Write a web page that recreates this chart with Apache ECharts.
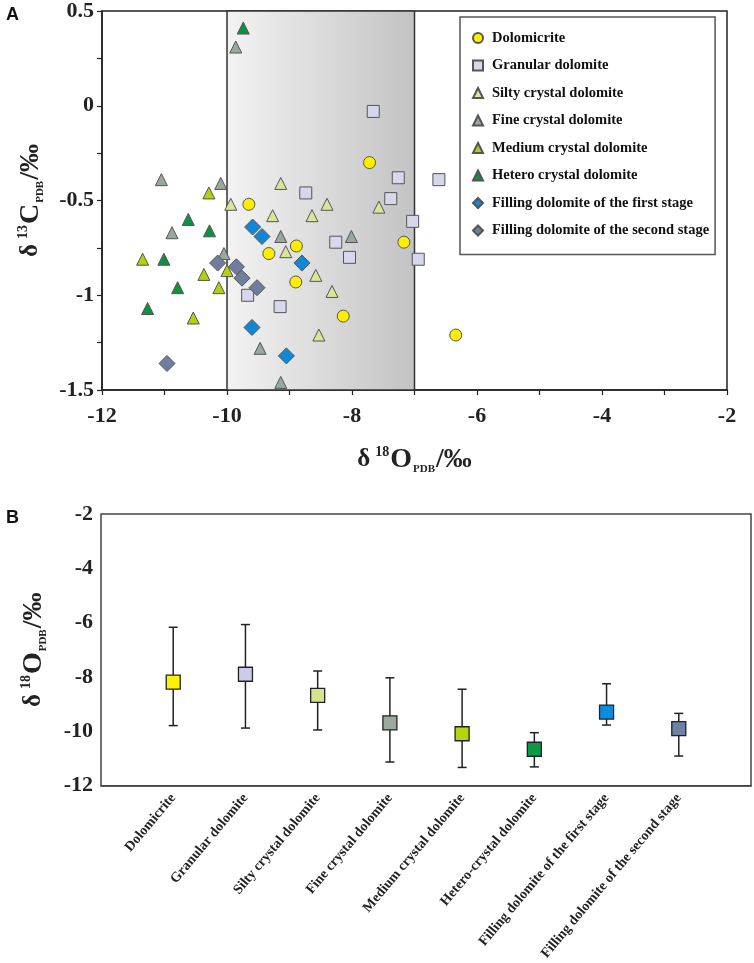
<!DOCTYPE html>
<html>
<head>
<meta charset="utf-8">
<script src="https://cdn.jsdelivr.net/npm/echarts@6/dist/echarts.min.js"></script>
<style>
  html, body { margin: 0; padding: 0; background: #fff; }
  #chart { width: 754px; height: 963px; }
</style>
</head>
<body>
<div id="chart"></div>
<script>
// ---- panel A: d18O (x) vs d13C (y) ----
var dolomicrite = [[-7.72, -0.30], [-9.65, -0.52], [-9.33, -0.78], [-8.89, -0.74], [-7.17, -0.72], [-8.90, -0.93], [-8.14, -1.11], [-6.34, -1.21]];
var granular = [[-7.66, -0.03], [-7.26, -0.38], [-8.74, -0.46], [-7.38, -0.49], [-6.61, -0.39], [-7.03, -0.61], [-8.26, -0.72], [-8.04, -0.80], [-6.94, -0.81], [-9.67, -1.00], [-9.15, -1.06]];
var silty = [[-9.14, -0.41], [-9.94, -0.52], [-9.27, -0.58], [-9.06, -0.77], [-8.40, -0.52], [-7.57, -0.535], [-8.64, -0.58], [-8.32, -0.98], [-8.53, -1.21], [-8.58, -0.895]];
var fine = [[-9.86, 0.31], [-11.05, -0.39], [-10.10, -0.41], [-10.88, -0.67], [-9.14, -0.69], [-10.05, -0.78], [-9.47, -1.28], [-9.14, -1.46], [-8.01, -0.69]];
var medium = [[-10.29, -0.46], [-11.35, -0.81], [-10.00, -0.87], [-10.37, -0.89], [-10.13, -0.96], [-10.54, -1.12]];
var hetero = [[-9.74, 0.41], [-10.62, -0.60], [-10.28, -0.66], [-11.01, -0.81], [-10.79, -0.96], [-11.27, -1.07]];
var filling1 = [[-9.59, -0.64], [-9.44, -0.69], [-8.80, -0.83], [-9.60, -1.17], [-9.05, -1.32]];
var filling2 = [[-10.15, -0.83], [-9.85, -0.85], [-9.76, -0.91], [-9.52, -0.96], [-10.96, -1.36]];
var bandRange = [-10, -7];

// ---- panel B: d18O summary per rock type ----
var categories = ['Dolomicrite', 'Granular dolomite', 'Silty crystal dolomite', 'Fine crystal dolomite',
  'Medium crystal dolomite', 'Hetero-crystal dolomite', 'Filling dolomite of the first stage', 'Filling dolomite of the second stage'];
var meanO = [-8.19, -7.90, -8.68, -9.69, -10.09, -10.66, -9.29, -9.90];
var maxO = [-6.17, -6.07, -7.78, -8.03, -8.45, -10.05, -8.25, -9.34];
var minO = [-9.79, -9.88, -9.95, -11.13, -11.33, -11.31, -9.77, -10.91];
var bColors = ['#fff200', '#ccccea', '#d6e38a', '#9aab9d', '#b6d40a', '#0a9a45', '#0c8ce0', '#7082a4'];

var serif = 'Liberation Serif';
var ink = '#222';

var richName = {
  d: { fontFamily: serif, fontWeight: 'bold', fontSize: 25, lineHeight: 30, color: ink },
  m: { fontFamily: serif, fontWeight: 'bold', fontSize: 28, lineHeight: 30, color: ink },
  sup: { fontFamily: serif, fontWeight: 'bold', fontSize: 14, lineHeight: 16, verticalAlign: 'top', padding: [0, 1, 0, 5], color: ink },
  sub: { fontFamily: serif, fontWeight: 'bold', fontSize: 11, lineHeight: 11, verticalAlign: 'bottom', padding: [0, 1, 0, 1], color: ink }
};
function isoName(num, el) {
  return '{d|δ}{sup|' + num + '}{m|' + el + '}{sub|PDB}{m|/‰}';
}

var tickLabel = { fontFamily: serif, fontWeight: 'bold', fontSize: 22, color: ink };

function pointSeries(name, data, symbol, size, color) {
  return {
    name: name,
    type: 'scatter',
    xAxisIndex: 0,
    yAxisIndex: 0,
    data: data,
    symbol: symbol,
    symbolSize: size,
    z: 5,
    itemStyle: { color: color, borderColor: '#555', borderWidth: 1, opacity: 1 }
  };
}

var seriesA = [
  pointSeries('Dolomicrite', dolomicrite, 'circle', 12, '#ffee00'),
  pointSeries('Granular dolomite', granular, 'rect', 12, '#d6d6ec'),
  pointSeries('Silty crystal dolomite', silty, 'triangle', 12, '#d8e69c'),
  pointSeries('Fine crystal dolomite', fine, 'triangle', 12, '#98a89c'),
  pointSeries('Medium crystal dolomite', medium, 'triangle', 12, '#b4cf10'),
  pointSeries('Hetero crystal dolomite', hetero, 'triangle', 12, '#0f9040'),
  pointSeries('Filling dolomite of the first stage', filling1, 'diamond', 16, '#1486d6'),
  pointSeries('Filling dolomite of the second stage', filling2, 'diamond', 16, '#6e7e9c')
];

var chart = echarts.init(document.getElementById('chart'));

var option = {
  backgroundColor: '#ffffff',
  animation: false,
  graphic: [
    { type: 'text', left: 6, top: 6, style: { text: 'A', font: 'bold 18px "Liberation Sans"', fill: '#111' } },
    { type: 'text', left: 6, top: 509, style: { text: 'B', font: 'bold 18px "Liberation Sans"', fill: '#111' } }
  ],
  legend: {
    data: seriesA.map(function (s) { return s.name; }),
    orient: 'vertical',
    left: 460,
    top: 17,
    padding: [13, 6, 16, 12],
    itemWidth: 10,
    itemHeight: 10,
    itemGap: 11.5,
    selectedMode: false,
    backgroundColor: '#fff',
    borderColor: '#555',
    borderWidth: 1.5,
    textStyle: { fontFamily: serif, fontWeight: 'bold', fontSize: 14.5, lineHeight: 16, color: '#111', padding: [0, 0, 0, 4] }
  },
  grid: [
    { left: 102, top: 10, width: 625, height: 380, show: true, borderColor: ink, borderWidth: 1.5 },
    { left: 101, top: 514, width: 650, height: 284, show: true, borderColor: '#444', borderWidth: 1.5 }
  ],
  xAxis: [
    {
      gridIndex: 0, type: 'value', min: -12, max: -2, interval: 2,
      axisLine: { onZero: false, lineStyle: { color: ink, width: 1.5 } },
      axisTick: { length: 5, lineStyle: { color: ink, width: 1.2 } },
      minorTick: { show: true, splitNumber: 2, length: 5, lineStyle: { color: ink, width: 1.2 } },
      splitLine: { show: false },
      axisLabel: Object.assign({ margin: 15 }, tickLabel),
      name: isoName('18', 'O'), nameLocation: 'middle', nameGap: 55,
      nameTextStyle: { rich: richName }
    },
    {
      gridIndex: 1, type: 'category', boundaryGap: false,
      data: [''].concat(categories).concat(['']),
      axisLine: { onZero: false, lineStyle: { color: '#444', width: 1.5 } },
      axisTick: { show: false },
      splitLine: { show: false },
      axisLabel: { interval: 0, rotate: 50, margin: 10, fontFamily: serif, fontWeight: 'bold', fontSize: 14, color: ink }
    }
  ],
  yAxis: [
    {
      gridIndex: 0, type: 'value', min: -1.5, max: 0.5, interval: 0.5,
      axisLine: { onZero: false, lineStyle: { color: ink, width: 1.5 } },
      axisTick: { length: 5, lineStyle: { color: ink, width: 1.2 } },
      minorTick: { show: true, splitNumber: 2, length: 5, lineStyle: { color: ink, width: 1.2 } },
      splitLine: { show: false },
      axisLabel: Object.assign({ margin: 8 }, tickLabel),
      name: isoName('13', 'C'), nameLocation: 'middle', nameGap: 56, nameRotate: 90,
      nameTextStyle: { rich: richName }
    },
    {
      gridIndex: 1, type: 'value', min: -12, max: -2, interval: 2,
      axisLine: { onZero: false, lineStyle: { color: '#444', width: 1.5 } },
      axisTick: { length: 5, lineStyle: { color: ink, width: 1.2 } },
      splitLine: { show: false },
      axisLabel: Object.assign({ margin: 8 }, tickLabel),
      name: isoName('18', 'O'), nameLocation: 'middle', nameGap: 52, nameRotate: 90,
      nameTextStyle: { rich: richName }
    }
  ],
  series: [
    {
      // shaded range of d18O
      type: 'scatter', xAxisIndex: 0, yAxisIndex: 0, data: [], z: 1,
      markArea: {
        silent: true,
        itemStyle: {
          color: new echarts.graphic.LinearGradient(0, 0, 1, 0, [
            { offset: 0, color: '#f3f3f3' },
            { offset: 1, color: '#c3c3c3' }
          ]),
          borderColor: '#333',
          borderWidth: 1.5
        },
        data: [[{ xAxis: bandRange[0] }, { xAxis: bandRange[1] }]]
      }
    }
  ].concat(seriesA).concat([
    {
      type: 'custom', xAxisIndex: 1, yAxisIndex: 1, z: 3,
      data: categories.map(function (c, i) { return [i + 1, minO[i], maxO[i]]; }),
      renderItem: function (params, api) {
        var lo = api.coord([api.value(0), api.value(1)]);
        var hi = api.coord([api.value(0), api.value(2)]);
        var w = 4.5;
        var st = { stroke: ink, lineWidth: 1.5 };
        return {
          type: 'group',
          children: [
            { type: 'line', shape: { x1: lo[0], y1: lo[1], x2: hi[0], y2: hi[1] }, style: st },
            { type: 'line', shape: { x1: lo[0] - w, y1: lo[1], x2: lo[0] + w, y2: lo[1] }, style: st },
            { type: 'line', shape: { x1: hi[0] - w, y1: hi[1], x2: hi[0] + w, y2: hi[1] }, style: st }
          ]
        };
      }
    },
    {
      type: 'scatter', xAxisIndex: 1, yAxisIndex: 1, z: 4,
      data: meanO.map(function (v, i) { return [i + 1, v]; }),
      symbol: 'rect', symbolSize: 14,
      itemStyle: {
        color: function (p) { return bColors[p.dataIndex]; },
        borderColor: ink, borderWidth: 1.3, opacity: 1
      }
    }
  ])
};

chart.setOption(option);
</script>
</body>
</html>
